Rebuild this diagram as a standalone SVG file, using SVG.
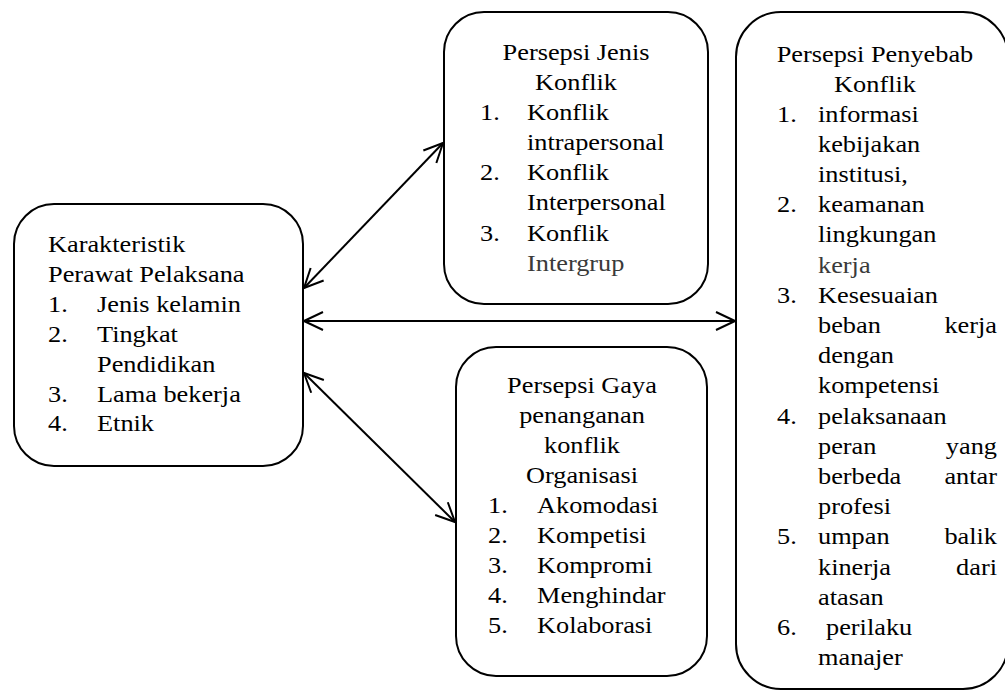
<svg xmlns="http://www.w3.org/2000/svg" width="1005" height="695" viewBox="0 0 1005 695">
<style>
.box{fill:none;stroke:#000;stroke-width:2}
.t{font-family:"Liberation Serif","Times New Roman",serif;font-size:22.5px;fill:#000}
.m{text-anchor:middle}
.e{text-anchor:end}
.g{fill:#3a3a3a}
.con line{stroke:#000;stroke-width:2;marker-start:url(#ah);marker-end:url(#ah)}
</style>
<defs>
<marker id="ah" viewBox="0 0 22 22" refX="20" refY="10" markerWidth="22" markerHeight="22" markerUnits="userSpaceOnUse" orient="auto-start-reverse">
<path d="M1,1 L20,10 L1,19" fill="none" stroke="#000" stroke-width="2"/>
</marker>
</defs>
<rect width="1005" height="695" fill="#fff"/>

<g id="karakteristik">
<rect class="box" x="14" y="204" width="289" height="262" rx="40" ry="40"/>
<text class="t" transform="translate(48,252) scale(1.17 1)">Karakteristik</text>
<text class="t" transform="translate(48,282) scale(1.17 1)">Perawat Pelaksana</text>
<text class="t" transform="translate(48,312) scale(1.17 1)">1.</text>
<text class="t" transform="translate(97,312) scale(1.17 1)">Jenis kelamin</text>
<text class="t" transform="translate(48,342) scale(1.17 1)">2.</text>
<text class="t" transform="translate(97,342) scale(1.17 1)">Tingkat</text>
<text class="t" transform="translate(97,372) scale(1.17 1)">Pendidikan</text>
<text class="t" transform="translate(48,402) scale(1.17 1)">3.</text>
<text class="t" transform="translate(97,402) scale(1.17 1)">Lama bekerja</text>
<text class="t" transform="translate(48,431) scale(1.17 1)">4.</text>
<text class="t" transform="translate(97,431) scale(1.17 1)">Etnik</text>
</g>

<g id="jenis-konflik">
<rect class="box" x="444" y="12" width="264" height="292" rx="40" ry="40"/>
<text class="t m" transform="translate(576,60) scale(1.17 1)">Persepsi Jenis</text>
<text class="t m" transform="translate(576,90) scale(1.17 1)">Konflik</text>
<text class="t" transform="translate(480,120) scale(1.17 1)">1.</text>
<text class="t" transform="translate(527,120) scale(1.17 1)">Konflik</text>
<text class="t" transform="translate(527,150) scale(1.17 1)">intrapersonal</text>
<text class="t" transform="translate(480,180) scale(1.17 1)">2.</text>
<text class="t" transform="translate(527,180) scale(1.17 1)">Konflik</text>
<text class="t" transform="translate(527,210) scale(1.17 1)">Interpersonal</text>
<text class="t" transform="translate(480,241) scale(1.17 1)">3.</text>
<text class="t" transform="translate(527,241) scale(1.17 1)">Konflik</text>
<text class="t g" transform="translate(527,271) scale(1.17 1)">Intergrup</text>
</g>

<g id="gaya-penanganan">
<rect class="box" x="456" y="347" width="251" height="329" rx="40" ry="40"/>
<text class="t m" transform="translate(582,393) scale(1.17 1)">Persepsi Gaya</text>
<text class="t m" transform="translate(582,423) scale(1.17 1)">penanganan</text>
<text class="t m" transform="translate(582,453) scale(1.17 1)">konflik</text>
<text class="t m" transform="translate(582,483) scale(1.17 1)">Organisasi</text>
<text class="t" transform="translate(488,513) scale(1.17 1)">1.</text>
<text class="t" transform="translate(537,513) scale(1.17 1)">Akomodasi</text>
<text class="t" transform="translate(488,543) scale(1.17 1)">2.</text>
<text class="t" transform="translate(537,543) scale(1.17 1)">Kompetisi</text>
<text class="t" transform="translate(488,573) scale(1.17 1)">3.</text>
<text class="t" transform="translate(537,573) scale(1.17 1)">Kompromi</text>
<text class="t" transform="translate(488,603) scale(1.17 1)">4.</text>
<text class="t" transform="translate(537,603) scale(1.17 1)">Menghindar</text>
<text class="t" transform="translate(488,633) scale(1.17 1)">5.</text>
<text class="t" transform="translate(537,633) scale(1.17 1)">Kolaborasi</text>
</g>

<g id="penyebab-konflik">
<rect class="box" x="736" y="12" width="272" height="677" rx="45" ry="45"/>
<text class="t m" transform="translate(875,62) scale(1.17 1)">Persepsi Penyebab</text>
<text class="t m" transform="translate(875,92) scale(1.17 1)">Konflik</text>
<text class="t" transform="translate(777,121.5) scale(1.17 1)">1.</text>
<text class="t" transform="translate(818,121.5) scale(1.17 1)">informasi</text>
<text class="t" transform="translate(818,151.7) scale(1.17 1)">kebijakan</text>
<text class="t" transform="translate(818,181.9) scale(1.17 1)">institusi,</text>
<text class="t" transform="translate(777,212.1) scale(1.17 1)">2.</text>
<text class="t" transform="translate(818,212.1) scale(1.17 1)">keamanan</text>
<text class="t" transform="translate(818,242.3) scale(1.17 1)">lingkungan</text>
<text class="t g" transform="translate(818,272.5) scale(1.17 1)">kerja</text>
<text class="t" transform="translate(777,302.7) scale(1.17 1)">3.</text>
<text class="t" transform="translate(818,302.7) scale(1.17 1)">Kesesuaian</text>
<text class="t" transform="translate(818,332.9) scale(1.17 1)">beban</text>
<text class="t e" transform="translate(997,332.9) scale(1.17 1)">kerja</text>
<text class="t" transform="translate(818,363.1) scale(1.17 1)">dengan</text>
<text class="t" transform="translate(818,393.3) scale(1.17 1)">kompetensi</text>
<text class="t" transform="translate(777,423.5) scale(1.17 1)">4.</text>
<text class="t" transform="translate(818,423.5) scale(1.17 1)">pelaksanaan</text>
<text class="t" transform="translate(818,453.7) scale(1.17 1)">peran</text>
<text class="t e" transform="translate(997,453.7) scale(1.17 1)">yang</text>
<text class="t" transform="translate(818,483.9) scale(1.17 1)">berbeda</text>
<text class="t e" transform="translate(997,483.9) scale(1.17 1)">antar</text>
<text class="t" transform="translate(818,514.1) scale(1.17 1)">profesi</text>
<text class="t" transform="translate(777,544.3) scale(1.17 1)">5.</text>
<text class="t" transform="translate(818,544.3) scale(1.17 1)">umpan</text>
<text class="t e" transform="translate(997,544.3) scale(1.17 1)">balik</text>
<text class="t" transform="translate(818,574.5) scale(1.17 1)">kinerja</text>
<text class="t e" transform="translate(997,574.5) scale(1.17 1)">dari</text>
<text class="t" transform="translate(818,604.7) scale(1.17 1)">atasan</text>
<text class="t" transform="translate(777,634.9) scale(1.17 1)">6.</text>
<text class="t" transform="translate(826,634.9) scale(1.17 1)">perilaku</text>
<text class="t" transform="translate(818,665.1) scale(1.17 1)">manajer</text>
</g>

<g id="connectors" class="con">
<line x1="304" y1="288" x2="443" y2="143"/>
<line x1="304" y1="321" x2="735" y2="321"/>
<line x1="304" y1="373" x2="455" y2="522"/>
</g>
</svg>
